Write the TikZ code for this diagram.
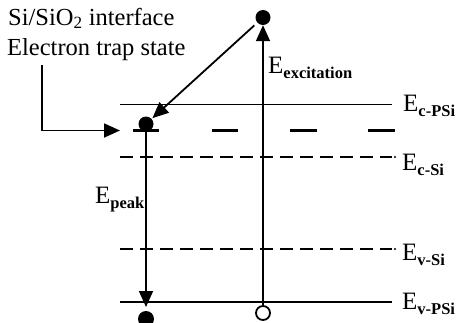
\documentclass[tikz,border=0pt]{standalone}
\usepackage{fontspec}
\setmainfont{Liberation Serif}
\usetikzlibrary{arrows.meta}
\newcommand{\Elab}[1]{\fontsize{25}{28}\selectfont E\raisebox{-5pt}{\fontsize{16.5}{18}\selectfont\bfseries #1}}
\begin{document}
\begin{tikzpicture}[x=1pt,y=-1pt,
  lvl/.style={line width=1.8pt},
  dlvl/.style={line width=1.8pt,dash pattern=on 13pt off 7pt},
  trapseg/.style={line width=3.8pt},
  arr/.style={line width=1.8pt,-{Triangle[length=16pt,width=14pt]}},
  lab/.style={anchor=base west,inner sep=0pt},
  txt/.style={anchor=base west,inner sep=0pt,font=\fontsize{24.5}{28}\selectfont}]
\useasboundingbox (0,0) rectangle (456,322);
\clip (0,0) rectangle (456,322);
% levels
\draw[lvl] (120,104.5) -- (392,104.5);
\draw[dlvl] (120,157) -- (392,157);
\fill (395,157) circle (1.1pt);
\draw[dlvl] (120,249) -- (392,249);
\fill (395,249) circle (1.1pt);
\draw[lvl] (120,302) -- (392,302);
% trap dashes
\draw[trapseg] (133,130.5) -- (159,130.5);
\draw[trapseg] (212,130.5) -- (238,130.5);
\draw[trapseg] (290,130.5) -- (317,130.5);
\draw[trapseg] (368,130.5) -- (395,130.5);
% dots
\node[circle,fill,inner sep=0pt,minimum size=15pt] (topdot) at (263,17.5) {};
\node[circle,fill,inner sep=0pt,minimum size=15pt] (trapdot) at (146,124) {};
\node[circle,fill,inner sep=0pt,minimum size=16pt] (botdot) at (146,319) {};
\node[circle,draw,line width=1.8pt,inner sep=0pt,minimum size=14pt] (hole) at (263,313) {};
\coordinate (vtip) at (146,307);
\coordinate (trapbase) at (146,131);
\coordinate (lstart) at (42,65);
\coordinate (ltip) at (120,130.5);
% arrows
\draw[arr] (hole.north) -- (topdot.south);
\draw[arr] (trapbase) -- (vtip);
\draw[arr,shorten <=4pt,shorten >=1pt] (topdot) -- (trapdot);
\draw[arr] (lstart) |- (ltip);
% labels
\node[txt] (t1) at (8,25) {Si/SiO\textsubscript{2} interface};
\node[txt] (t2) at (7,55) {Electron trap state};
\node[lab] (lexc) at (268,73) {\Elab{excitation}};
\node[lab] (lpeak) at (95,203) {\Elab{peak}};
\node[lab] (lcp) at (403,111) {\Elab{c-PSi}};
\node[lab] (lcs) at (402,170) {\Elab{c-Si}};
\node[lab] (lvs) at (402,260) {\Elab{v-Si}};
\node[lab] (lvp) at (402,309) {\Elab{v-PSi}};
\end{tikzpicture}
\end{document}
